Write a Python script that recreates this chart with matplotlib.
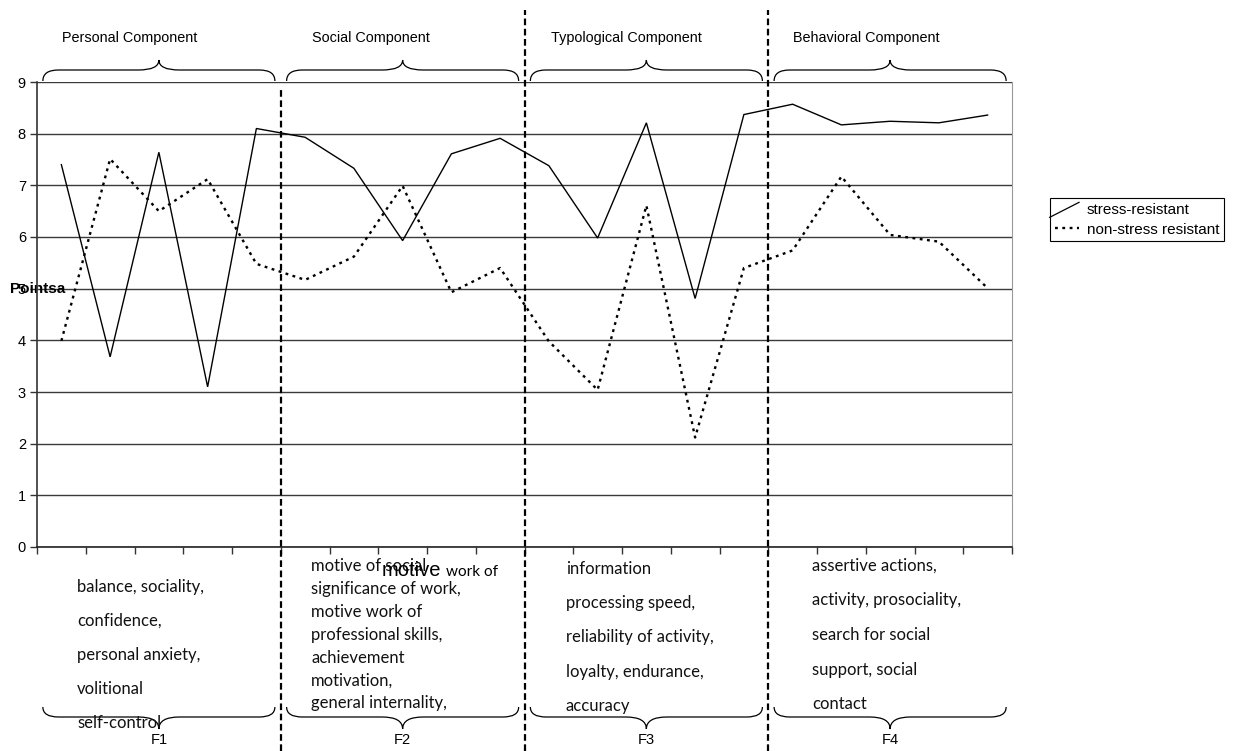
import numpy as np
import matplotlib
matplotlib.use("Agg")
import matplotlib.pyplot as plt
from matplotlib.path import Path
from matplotlib.patches import PathPatch
from matplotlib.lines import Line2D
from matplotlib.legend_handler import HandlerLine2D
from matplotlib.transforms import blended_transform_factory

# ---------------- data ----------------
stress_resistant = [7.40, 3.68, 7.64, 3.10, 8.10,
                    7.93, 7.33, 5.93, 7.61, 7.91,
                    7.38, 5.98, 8.21, 4.81, 8.37,
                    8.57, 8.17, 8.24, 8.21, 8.36]
non_stress_resistant = [3.99, 7.51, 6.50, 7.12, 5.48,
                        5.17, 5.62, 6.99, 4.93, 5.40,
                        3.98, 3.04, 6.61, 2.12, 5.40,
                        5.74, 7.17, 6.04, 5.91, 5.01]
series_names = ["stress-resistant", "non-stress resistant"]
components = ["Personal Component", "Social Component",
              "Typological Component", "Behavioral Component"]
factor_labels = ["F1", "F2", "F3", "F4"]
desc_f1 = ["balance, sociality,", "confidence,", "personal anxiety,",
           "volitional", "self-control"]
desc_f2 = ["motive of social", "significance of work,", "motive work of",
           "professional skills,", "achievement", "motivation,",
           "general internality,"]
desc_f3 = ["information", "processing speed,", "reliability of activity,",
           "loyalty, endurance,", "accuracy"]
desc_f4 = ["assertive actions,", "activity, prosociality,",
           "search for social", "support, social", "contact"]
y_ticks = list(range(0, 10))
y_label = "Pointsa"
n_per_group = 5

# ---------------- figure ----------------
W, H = 1234, 751
fig = plt.figure(figsize=(W / 100, H / 100), dpi=100)
ax = fig.add_axes([37 / W, 1 - 547 / H, 975 / W, 465 / H])

def fy(py):
    return 1 - py / H

n = len(stress_resistant)
x = np.arange(n) + 0.5

ax.plot(x, stress_resistant, color="black", lw=1.0, solid_joinstyle="miter",
        label=series_names[0], zorder=3)
ax.plot(x, non_stress_resistant, color="black", lw=1.7,
        linestyle=(0, (1.2, 1.9)), label=series_names[1], zorder=3)

ax.set_xlim(0, n)
ax.set_ylim(0, 9)
ax.set_yticks(y_ticks)
ax.set_xticks(np.arange(0, n + 1))
ax.set_xticklabels([])
ax.yaxis.grid(True, color="#3a3a3a", lw=1.0)
ax.set_axisbelow(True)
ax.tick_params(axis="both", direction="out", length=5, width=1,
               color="#333333", labelsize=10.5, pad=3)
for lab in ax.get_yticklabels():
    lab.set_fontfamily("Liberation Sans")
ax.spines["top"].set_visible(False)
ax.spines["right"].set_color("#999999")
ax.spines["left"].set_color("#333333")
ax.spines["bottom"].set_color("#222222")
ax.spines["left"].set_linewidth(1.2)
ax.spines["bottom"].set_linewidth(1.2)

ax.set_ylabel(y_label, rotation=0, fontsize=11, fontweight="bold",
              family="Liberation Sans", ha="center", va="center")
ax.yaxis.set_label_coords(0.001, 0.555)

# ---------------- separators ----------------
bt = blended_transform_factory(ax.transData, fig.transFigure)
for k in range(1, 4):
    xs = k * n_per_group
    ytop = fy(88) if k == 1 else fy(10)
    ln = Line2D([xs, xs], [0, ytop], transform=bt, color="black", lw=1.6,
                linestyle=(0, (3, 1.6)), zorder=5)
    fig.add_artist(ln)

# ---------------- braces ----------------
def brace(x0, x1, y_end, y_flat, y_tip, e=0.32, c=0.42):
    xc = (x0 + x1) / 2
    verts = [(x0, y_end), (x0, y_flat), (x0 + e, y_flat),
             (xc - c, y_flat), (xc, y_flat), (xc, y_tip),
             (xc, y_flat), (xc + c, y_flat),
             (x1 - e, y_flat), (x1, y_flat), (x1, y_end)]
    codes = [Path.MOVETO, Path.CURVE3, Path.CURVE3,
             Path.LINETO, Path.CURVE3, Path.CURVE3,
             Path.CURVE3, Path.CURVE3,
             Path.LINETO, Path.CURVE3, Path.CURVE3]
    p = PathPatch(Path(verts, codes), transform=bt, fill=False,
                  edgecolor="black", lw=0.9)
    fig.add_artist(p)

for k in range(4):
    x0 = k * n_per_group + 0.12
    x1 = (k + 1) * n_per_group - 0.12
    brace(x0, x1, fy(81), fy(70), fy(60))
    brace(x0, x1, fy(707), fy(717), fy(729))

# ---------------- component titles & factor labels ----------------
comp_x = [62, 312, 551, 793]
for cx, name in zip(comp_x, components):
    fig.text(cx / W, fy(38), name, fontsize=10.4, family="Liberation Sans",
             ha="left", va="center")

for k, lab in enumerate(factor_labels):
    xc = k * n_per_group + n_per_group / 2
    fig.text(xc, fy(740), lab, transform=bt, fontsize=10.5,
             family="Liberation Sans", ha="center", va="center")

# ---------------- descriptions ----------------
DESC_FS = 12.0

def column(lines, px, py0, step):
    for i, s in enumerate(lines):
        fig.text(px / W, fy(py0 + i * step), s, fontsize=DESC_FS,
                 family="Lato", ha="left", va="center", color="#111111")

column(desc_f1, 77, 587, 34)
column(desc_f2, 311, 566, 22.9)
column(desc_f3, 566, 569, 34.2)
column(desc_f4, 812, 566, 34.5)
# overlapping stray text in the original
fig.text(382 / W, fy(571), "motive", fontsize=14.5, family="Liberation Sans",
         ha="left", va="center")
fig.text(446 / W, fy(572), "work of", fontsize=11, family="Lato",
         ha="left", va="center")

# ---------------- legend ----------------
class DiagHandler(HandlerLine2D):
    def create_artists(self, legend, orig_handle, xdescent, ydescent,
                       width, height, fontsize, trans):
        l = Line2D([-xdescent - 0.2 * width, width],
                   [-ydescent - 0.35 * height, height * 1.05])
        l.set_color("black")
        l.set_linewidth(0.9)
        l.set_transform(trans)
        return [l]

handles, labels = ax.get_legend_handles_labels()
leg = ax.legend(handles, labels, loc="upper left",
                bbox_to_anchor=(1050 / W, fy(198)),
                bbox_transform=fig.transFigure,
                handler_map={handles[0]: DiagHandler()},
                fancybox=False, edgecolor="black", framealpha=1,
                fontsize=11, handlelength=1.6, handletextpad=0.5,
                borderpad=0.3, labelspacing=0.4, borderaxespad=0)
leg.get_frame().set_linewidth(0.8)
for t in leg.get_texts():
    t.set_fontfamily("Liberation Sans")

fig.savefig("out.png", dpi=100)
